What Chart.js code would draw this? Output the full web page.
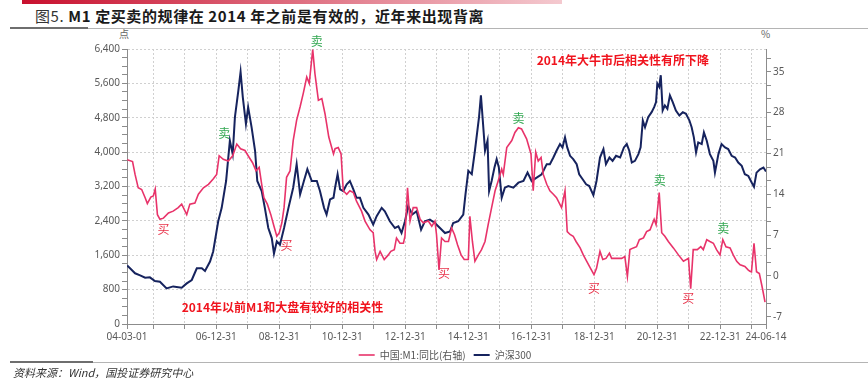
<!DOCTYPE html>
<html>
<head>
<meta charset="utf-8">
<script src="https://cdn.jsdelivr.net/npm/chart.js@4.4.1/dist/chart.umd.min.js"></script>
<style>
  body { margin: 0; background: #fff; width: 868px; height: 385px; position: relative; overflow: hidden; font-family: "Noto Sans", "Noto Sans CJK SC", sans-serif; }
  #topbar { position: absolute; left: 22px; top: 0; width: 540px; height: 4px; background: linear-gradient(to right, #c8102e, #f4c9cf); }
  #title { position: absolute; left: 35px; top: 5px; font-size: 15px; letter-spacing: 0.6px; font-weight: bold; color: #1a1a1a; white-space: nowrap; font-family: "Noto Sans CJK SC", sans-serif; }
  #title .fig { font-weight: normal; color: #333; }
  .rule { position: absolute; height: 1px; background: #b4b4b4; }
  .rule .dark { position: absolute; left: 0; top: -1px; height: 2px; background: #6e6e6e; }
  #source { position: absolute; left: 13px; top: 364px; font-size: 11px; font-style: italic; color: #333; font-family: "Noto Sans CJK SC", sans-serif; }
  .unit { position: absolute; top: 26px; font-size: 10px; color: #666; font-family: "Noto Sans CJK SC", sans-serif; }
  #chart { position: absolute; left: 0; top: 28px; }
</style>
</head>
<body>
<div id="topbar"></div>
<div id="title"><span class="fig">图5.</span> M1 定买卖的规律在 2014 年之前是有效的，近年来出现背离</div>
<div class="rule" style="left:10px; top:28px; width:858px;"><div class="dark" style="width:78px;"></div></div>
<span class="unit" style="left:119px;">点</span>
<span class="unit" style="left:761px;">%</span>
<canvas id="chart" width="868" height="342"></canvas>
<div class="rule" style="left:10px; top:362px; width:858px;"><div class="dark" style="width:83px;"></div></div>
<div id="source">资料来源：Wind，国投证券研究中心</div>

<script>
// x axis: yearly ticks, labels every second year
var xTickDates = ["04-03-01", "04-12-31", "05-12-31", "06-12-31", "07-12-31", "08-12-31", "09-12-31",
  "10-12-31", "11-12-31", "12-12-31", "13-12-31", "14-12-31", "15-12-31", "16-12-31", "17-12-31",
  "18-12-31", "19-12-31", "20-12-31", "21-12-31", "22-12-31", "23-12-31", "24-06-14"];
var xTickShown = ["04-03-01", "06-12-31", "08-12-31", "10-12-31", "12-12-31", "14-12-31",
  "16-12-31", "18-12-31", "20-12-31", "22-12-31", "24-06-14"];

// 中国:M1:同比 (right axis, %)
var m1Time = [2004.17, 2004.34, 2004.42, 2004.52, 2004.63, 2004.74, 2004.81, 2004.92, 2005.00, 2005.06,
  2005.13, 2005.21, 2005.32, 2005.48, 2005.63, 2005.79, 2005.90, 2006.06, 2006.16, 2006.32,
  2006.43, 2006.59, 2006.75, 2006.90, 2007.01, 2007.09, 2007.22, 2007.38, 2007.52, 2007.65,
  2007.77, 2007.91, 2008.01, 2008.15, 2008.26, 2008.36, 2008.44, 2008.51, 2008.62, 2008.73,
  2008.83, 2008.92, 2009.00, 2009.08, 2009.15, 2009.23, 2009.34, 2009.44, 2009.55, 2009.66,
  2009.76, 2009.87, 2009.95, 2010.06, 2010.13, 2010.24, 2010.35, 2010.45, 2010.57, 2010.72,
  2010.77, 2010.87, 2010.96, 2011.03, 2011.14, 2011.24, 2011.35, 2011.45, 2011.61, 2011.72,
  2011.88, 2011.98, 2012.04, 2012.09, 2012.20, 2012.33, 2012.46, 2012.54, 2012.65, 2012.72,
  2012.83, 2012.94, 2012.99, 2013.07, 2013.15, 2013.25, 2013.36, 2013.47, 2013.57, 2013.73,
  2013.84, 2013.94, 2013.99, 2014.07, 2014.15, 2014.26, 2014.37, 2014.47, 2014.56, 2014.66,
  2014.77, 2014.87, 2015.00, 2015.05, 2015.13, 2015.21, 2015.32, 2015.42, 2015.53, 2015.63,
  2015.74, 2015.85, 2015.95, 2016.06, 2016.11, 2016.22, 2016.38, 2016.48, 2016.59, 2016.69,
  2016.85, 2016.99, 2017.06, 2017.14, 2017.22, 2017.31, 2017.38, 2017.49, 2017.59, 2017.70,
  2017.80, 2017.96, 2018.07, 2018.14, 2018.23, 2018.33, 2018.42, 2018.55, 2018.65, 2018.76,
  2018.88, 2018.99, 2019.07, 2019.18, 2019.27, 2019.37, 2019.48, 2019.55, 2019.69, 2019.87,
  2019.97, 2020.05, 2020.13, 2020.24, 2020.34, 2020.43, 2020.56, 2020.66, 2020.77, 2020.90,
  2020.96, 2021.06, 2021.14, 2021.24, 2021.35, 2021.51, 2021.67, 2021.83, 2021.99, 2022.06,
  2022.14, 2022.27, 2022.38, 2022.46, 2022.57, 2022.67, 2022.78, 2022.88, 2022.99, 2023.08,
  2023.18, 2023.31, 2023.41, 2023.52, 2023.63, 2023.78, 2023.89, 2023.94, 2023.99, 2024.07,
  2024.15, 2024.24, 2024.34, 2024.42];
var m1Value = [19.9, 19.6, 17.4, 15.1, 14.8, 13.4, 12.4, 13.5, 13.7, 14.9,
  10.5, 9.7, 9.9, 10.8, 11.1, 11.7, 12.3, 10.5, 12.3, 12.5,
  14.0, 15.1, 15.7, 16.6, 17.4, 20.6, 20.0, 19.7, 20.6, 22.6,
  21.8, 21.5, 20.6, 19.4, 18.0, 18.6, 15.7, 13.4, 12.3, 10.5,
  8.5, 6.8, 7.4, 9.1, 11.7, 16.9, 18.0, 23.2, 26.7, 29.0,
  31.3, 34.1, 33.0, 38.8, 34.7, 30.1, 30.4, 27.8, 23.8, 20.9,
  21.8, 22.0, 20.9, 14.6, 14.0, 14.6, 14.3, 12.8, 11.1, 9.4,
  7.9, 7.4, 4.2, 2.8, 4.2, 2.8, 3.6, 4.2, 4.5, 6.5,
  5.6, 5.6, 6.8, 15.1, 9.4, 11.7, 11.7, 9.7, 9.1, 9.4,
  8.5, 9.4, 7.1, 1.0, 6.5, 5.9, 5.9, 8.2, 7.1, 5.3,
  3.6, 2.8, 2.8, 10.2, 5.9, 2.5, 3.6, 4.5, 5.9, 8.8,
  11.7, 14.6, 16.3, 18.3, 17.4, 22.0, 23.2, 24.6, 25.4, 25.2,
  23.5, 20.9, 14.6, 21.2, 19.7, 20.3, 17.4, 15.7, 14.6, 14.0,
  13.4, 11.7, 14.6, 7.6, 7.1, 6.8, 5.9, 4.8, 3.6, 2.5,
  1.3, 0.2, 1.3, 4.2, 2.8, 3.0, 3.9, 3.0, 3.0, 3.0,
  3.3, -0.1, 4.5, 4.8, 5.0, 6.2, 6.5, 7.6, 7.9, 9.7,
  8.8, 14.3, 7.4, 6.8, 5.9, 4.8, 3.6, 2.5, 3.0, -2.2,
  4.5, 4.5, 5.0, 4.5, 6.2, 5.9, 5.6, 4.5, 3.6, 6.2,
  5.0, 4.8, 3.6, 2.5, 1.9, 1.6, 1.0, 0.8, 0.7, 5.6,
  0.7, 0.4, -2.2, -4.5];

// 沪深300 (left axis, points)
var hs300Time = [2004.17, 2004.26, 2004.42, 2004.58, 2004.74, 2004.89, 2005.05, 2005.21, 2005.42, 2005.63,
  2005.90, 2006.06, 2006.22, 2006.38, 2006.54, 2006.64, 2006.80, 2006.90, 2007.06, 2007.17,
  2007.31, 2007.43, 2007.52, 2007.59, 2007.70, 2007.77, 2007.84, 2007.94, 2008.01, 2008.12,
  2008.23, 2008.30, 2008.44, 2008.54, 2008.65, 2008.76, 2008.83, 2008.92, 2009.02, 2009.15,
  2009.29, 2009.44, 2009.55, 2009.66, 2009.78, 2009.89, 2010.03, 2010.19, 2010.29, 2010.42,
  2010.50, 2010.61, 2010.72, 2010.77, 2010.85, 2010.93, 2011.03, 2011.14, 2011.24, 2011.35,
  2011.45, 2011.56, 2011.67, 2011.83, 2011.98, 2012.09, 2012.25, 2012.35, 2012.51, 2012.67,
  2012.78, 2012.88, 2012.99, 2013.09, 2013.22, 2013.36, 2013.50, 2013.62, 2013.78, 2013.94,
  2014.10, 2014.26, 2014.42, 2014.52, 2014.68, 2014.84, 2014.91, 2015.00, 2015.11, 2015.21,
  2015.30, 2015.34, 2015.40, 2015.46, 2015.53, 2015.61, 2015.66, 2015.74, 2015.83, 2015.90,
  2015.97, 2016.06, 2016.16, 2016.27, 2016.43, 2016.59, 2016.75, 2016.88, 2017.01, 2017.17,
  2017.33, 2017.49, 2017.59, 2017.70, 2017.80, 2017.91, 2017.99, 2018.07, 2018.14, 2018.23,
  2018.33, 2018.44, 2018.52, 2018.63, 2018.74, 2018.84, 2018.97, 2019.07, 2019.18, 2019.29,
  2019.37, 2019.48, 2019.58, 2019.69, 2019.82, 2019.94, 2020.03, 2020.11, 2020.19, 2020.29,
  2020.40, 2020.47, 2020.54, 2020.61, 2020.71, 2020.82, 2020.90, 2020.96, 2021.00, 2021.06,
  2021.11, 2021.17, 2021.24, 2021.32, 2021.40, 2021.49, 2021.59, 2021.70, 2021.81, 2021.91,
  2022.02, 2022.09, 2022.16, 2022.23, 2022.30, 2022.41, 2022.48, 2022.57, 2022.67, 2022.78,
  2022.83, 2022.94, 2023.04, 2023.15, 2023.25, 2023.36, 2023.47, 2023.57, 2023.68, 2023.78,
  2023.89, 2024.00, 2024.07, 2024.15, 2024.26, 2024.37, 2024.45];
var hs300Value = [1360, 1297, 1180, 1133, 1078, 1086, 1000, 985, 828, 875,
  844, 945, 1024, 1297, 1297, 1235, 1453, 1688, 2391, 2703,
  3328, 4266, 3954, 4813, 5438, 5868, 5282, 4657, 5047, 4578,
  4032, 3328, 3094, 2703, 2235, 2000, 1641, 1922, 1844, 2235,
  2703, 3172, 3719, 3016, 3328, 3602, 3328, 3328, 3094, 2703,
  2547, 2899, 2938, 3172, 3485, 3133, 3094, 3251, 3329, 3133,
  2937, 2937, 2703, 2547, 2313, 2508, 2703, 2625, 2391, 2234,
  2274, 2117, 2391, 2742, 2547, 2625, 2196, 2391, 2430, 2352,
  2234, 2117, 2156, 2352, 2391, 2547, 3016, 3563, 3485, 4032,
  4578, 4813, 5321, 4735, 4032, 4266, 3094, 3329, 3641, 3837,
  3641, 2937, 3172, 3211, 3172, 3289, 3329, 3523, 3329, 3406,
  3485, 3720, 3720, 3875, 4032, 4188, 4110, 4344, 4110, 3914,
  3837, 3720, 3485, 3368, 3251, 3211, 3000, 3329, 3875, 4071,
  3720, 3875, 3797, 3914, 3875, 4110, 4188, 4032, 3758, 3797,
  3954, 4110, 4735, 4578, 4813, 4930, 5047, 5164, 5594, 5516,
  5790, 4969, 5086, 5008, 5321, 5164, 4969, 4852, 4930, 4891,
  4735, 4578, 4344, 3992, 4227, 4188, 4461, 4266, 3954, 3797,
  3523, 3954, 4188, 4110, 4071, 3914, 3875, 3758, 3680, 3485,
  3446, 3289, 3195, 3523, 3602, 3641, 3547];

// buy / sell signals, placed on the right (M1) axis
var signalText = ["买", "卖", "买", "卖", "买", "卖", "买", "卖", "买", "卖"];
var signalTime = [2005.32, 2007.25, 2009.23, 2010.19, 2014.23, 2016.59, 2018.99, 2021.08, 2021.98, 2023.09];
var signalLevel = [7.9, 24.5, 5.2, 40.2, 0.4, 27.0, -2.2, 16.3, -3.8, 8.2];

// the two red notes
var noteText = ["2014年大牛市后相关性有所下降", "2014年以前M1和大盘有较好的相关性"];
var noteTime = [2017.17, 2005.90];
var noteLevel = [37.0, -5.4];

var PINK = "#e8336a";
var NAVY = "#16235e";
var GRID = "#d0d0d0";
var AXIS = "#8c8c8c";

function toYear(s) {
  var p = s.split("-");
  var y = 2000 + parseInt(p[0], 10);
  var d0 = Date.UTC(y, 0, 1);
  var d = Date.UTC(y, parseInt(p[1], 10) - 1, parseInt(p[2], 10));
  var len = Date.UTC(y + 1, 0, 1) - d0;
  return y + (d - d0) / len;
}

function pairs(xs, ys) {
  return xs.map(function(x, i) { return {x: x, y: ys[i]}; });
}

var xTicks = xTickDates.map(toYear);
var xMin = xTicks[0];
var xMax = xTicks[xTicks.length - 1];

function isMajor(v, step) {
  return Math.abs(v / step - Math.round(v / step)) < 1e-6;
}

// text drawn on top of the lines
var notesPlugin = {
  id: "notes",
  afterDatasetsDraw: function(chart) {
    var ctx = chart.ctx;
    var x = chart.scales.x;
    var y1 = chart.scales.y1;
    ctx.save();
    ctx.textBaseline = "middle";
    ctx.textAlign = "center";
    ctx.font = '12px "Noto Sans CJK SC"';
    signalText.forEach(function(t, i) {
      ctx.fillStyle = t === "买" ? "#e8334a" : "#33a852";
      ctx.fillText(t, x.getPixelForValue(signalTime[i]), y1.getPixelForValue(signalLevel[i]));
    });
    ctx.textAlign = "left";
    ctx.font = 'bold 12px "Noto Sans CJK SC"';
    ctx.fillStyle = "#f0141e";
    noteText.forEach(function(t, i) {
      ctx.fillText(t, x.getPixelForValue(noteTime[i]), y1.getPixelForValue(noteLevel[i]));
    });
    ctx.restore();
  }
};

var tickFont = {family: '"Noto Sans", sans-serif', size: 10};

new Chart(document.getElementById("chart"), {
  type: "line",
  data: {
    datasets: [{
      label: "中国:M1:同比(右轴)",
      data: pairs(m1Time, m1Value),
      yAxisID: "y1",
      borderColor: PINK,
      backgroundColor: PINK,
      borderWidth: 1.6,
      pointRadius: 0,
      tension: 0
    }, {
      label: "沪深300",
      data: pairs(hs300Time, hs300Value),
      yAxisID: "y",
      borderColor: NAVY,
      backgroundColor: NAVY,
      borderWidth: 2,
      pointRadius: 0,
      tension: 0
    }]
  },
  options: {
    responsive: false,
    animation: false,
    devicePixelRatio: 1,
    layout: {padding: {left: 22, right: 0, top: 21, bottom: 0}},
    plugins: {
      legend: {
        position: "bottom",
        labels: {
          usePointStyle: true,
          pointStyle: "line",
          pointStyleWidth: 16,
          boxHeight: 10,
          padding: 8,
          color: "#555",
          font: {family: '"Noto Sans CJK SC", sans-serif', size: 10}
        }
      },
      tooltip: {enabled: false}
    },
    scales: {
      x: {
        type: "linear",
        min: xMin,
        max: xMax,
        afterBuildTicks: function(scale) {
          scale.ticks = xTicks.map(function(v) { return {value: v}; });
        },
        afterFit: function(scale) { scale.height = 18; },
        ticks: {
          autoSkip: false,
          maxRotation: 0,
          padding: 2,
          color: "#595959",
          font: tickFont,
          callback: function(v, i) {
            var s = xTickDates[i];
            return xTickShown.indexOf(s) >= 0 ? s : "";
          }
        },
        grid: {
          color: function(c) { return c.index === 0 ? "rgba(0,0,0,0)" : GRID; },
          tickColor: AXIS,
          tickLength: 5,
          tickBorderDash: []
        },
        border: {color: AXIS, dash: [2, 2]}
      },
      y: {
        position: "left",
        min: 0,
        max: 6400,
        afterBuildTicks: function(scale) {
          var t = [];
          for (var v = 0; v <= 6400; v += 200) t.push({value: v});
          scale.ticks = t;
        },
        afterFit: function(scale) { scale.width = 105; },
        ticks: {
          autoSkip: false,
          padding: 2,
          color: "#595959",
          font: tickFont,
          callback: function(v) { return isMajor(v, 800) ? v.toLocaleString("en-US") : ""; }
        },
        grid: {
          color: function(c) {
            var v = c.tick ? c.tick.value : 0;
            return v > 0 && isMajor(v, 800) ? GRID : "rgba(0,0,0,0)";
          },
          tickColor: AXIS,
          tickLength: 5,
          tickBorderDash: []
        },
        border: {color: AXIS, dash: [2, 2]}
      },
      y1: {
        position: "right",
        min: -8.25,
        max: 38.9,
        afterBuildTicks: function(scale) {
          var t = [];
          for (var k = 0; k <= 19; k++) t.push({value: -7 + k * 7 / 3});
          scale.ticks = t;
        },
        afterFit: function(scale) { scale.width = 102; },
        ticks: {
          autoSkip: false,
          padding: 2,
          color: "#595959",
          font: tickFont,
          callback: function(v) { return isMajor(v, 7) ? String(Math.round(v)) : ""; }
        },
        grid: {
          drawOnChartArea: false,
          tickColor: AXIS,
          tickLength: 5
        },
        border: {color: AXIS}
      }
    }
  },
  plugins: [notesPlugin]
});
</script>
</body>
</html>
